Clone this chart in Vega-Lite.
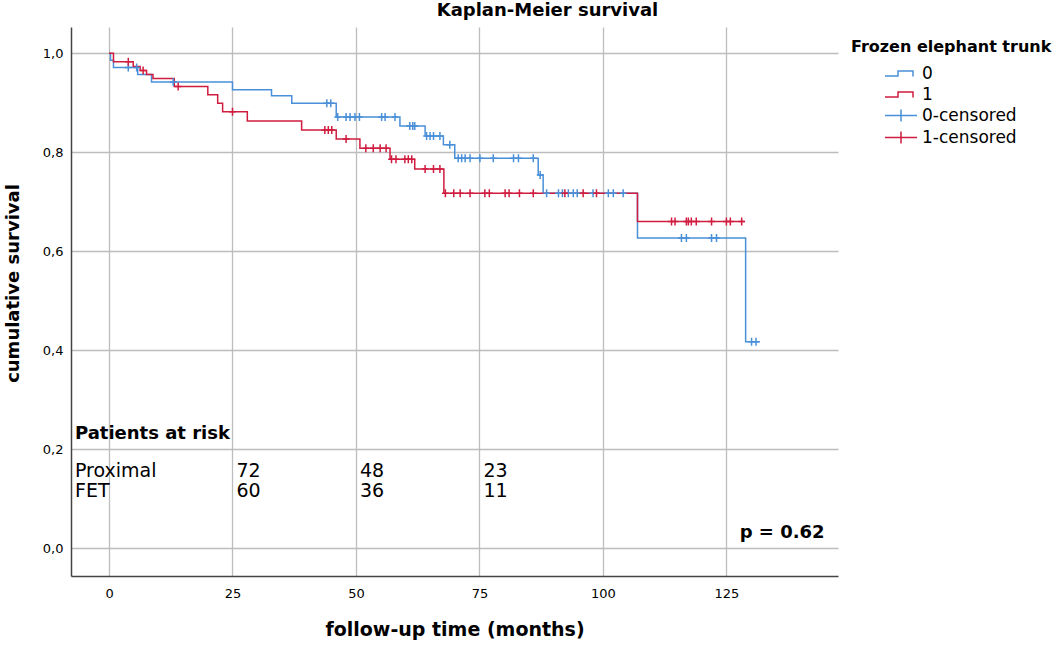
{
  "$schema": "https://vega.github.io/schema/vega-lite/v6.json",
  "autosize": {"type": "none"},
  "width": 767,
  "height": 549,
  "padding": {"left": 71, "top": 27, "right": 218, "bottom": 69},
  "background": "white",
  "config": {"view": {"stroke": null}, "font": "DejaVu Sans"},
  "title": {"text": "Kaplan-Meier survival", "font": "DejaVu Sans", "fontSize": 18, "fontWeight": "bold", "color": "black", "anchor": "middle", "dx": 93, "offset": 7},
  "datasets": {
    "curves": [
      {"grp": "0", "t": 0, "s": 1.0}, {"grp": "0", "t": 0.3, "s": 0.986}, {"grp": "0", "t": 0.9, "s": 0.971},
      {"grp": "0", "t": 5.8, "s": 0.957}, {"grp": "0", "t": 8.6, "s": 0.942}, {"grp": "0", "t": 25.0, "s": 0.926},
      {"grp": "0", "t": 32.9, "s": 0.914}, {"grp": "0", "t": 37.0, "s": 0.899}, {"grp": "0", "t": 46.0, "s": 0.871},
      {"grp": "0", "t": 58.9, "s": 0.853}, {"grp": "0", "t": 64.0, "s": 0.833}, {"grp": "0", "t": 67.7, "s": 0.815},
      {"grp": "0", "t": 70.0, "s": 0.788}, {"grp": "0", "t": 86.9, "s": 0.754}, {"grp": "0", "t": 87.9, "s": 0.717},
      {"grp": "0", "t": 107.0, "s": 0.627}, {"grp": "0", "t": 128.9, "s": 0.417}, {"grp": "0", "t": 131.8, "s": 0.417},
      {"grp": "1", "t": 0, "s": 1.0}, {"grp": "1", "t": 0.9, "s": 0.983}, {"grp": "1", "t": 4.9, "s": 0.973},
      {"grp": "1", "t": 6.3, "s": 0.965}, {"grp": "1", "t": 7.6, "s": 0.957}, {"grp": "1", "t": 8.9, "s": 0.949},
      {"grp": "1", "t": 13.2, "s": 0.933}, {"grp": "1", "t": 20.0, "s": 0.916}, {"grp": "1", "t": 22.0, "s": 0.899},
      {"grp": "1", "t": 23.0, "s": 0.882}, {"grp": "1", "t": 28.0, "s": 0.863}, {"grp": "1", "t": 39.0, "s": 0.845},
      {"grp": "1", "t": 46.0, "s": 0.827}, {"grp": "1", "t": 50.8, "s": 0.808}, {"grp": "1", "t": 56.9, "s": 0.786},
      {"grp": "1", "t": 61.9, "s": 0.766}, {"grp": "1", "t": 67.8, "s": 0.717}, {"grp": "1", "t": 107.0, "s": 0.66},
      {"grp": "1", "t": 128.7, "s": 0.66}
    ],
    "censors": [
      {"grp": "0-censored", "t": 3.9, "s": 0.971}, {"grp": "0-censored", "t": 5.6, "s": 0.971}, {"grp": "0-censored", "t": 13.0, "s": 0.942},
      {"grp": "0-censored", "t": 44.1, "s": 0.899}, {"grp": "0-censored", "t": 44.9, "s": 0.899}, {"grp": "0-censored", "t": 46.3, "s": 0.871},
      {"grp": "0-censored", "t": 48.0, "s": 0.871}, {"grp": "0-censored", "t": 48.8, "s": 0.871}, {"grp": "0-censored", "t": 49.8, "s": 0.871},
      {"grp": "0-censored", "t": 50.7, "s": 0.871}, {"grp": "0-censored", "t": 55.2, "s": 0.871}, {"grp": "0-censored", "t": 55.9, "s": 0.871},
      {"grp": "0-censored", "t": 57.9, "s": 0.871}, {"grp": "0-censored", "t": 60.9, "s": 0.853}, {"grp": "0-censored", "t": 61.5, "s": 0.853},
      {"grp": "0-censored", "t": 61.9, "s": 0.853}, {"grp": "0-censored", "t": 64.3, "s": 0.833}, {"grp": "0-censored", "t": 65.0, "s": 0.833},
      {"grp": "0-censored", "t": 65.7, "s": 0.833}, {"grp": "0-censored", "t": 67.0, "s": 0.833}, {"grp": "0-censored", "t": 69.0, "s": 0.815},
      {"grp": "0-censored", "t": 70.7, "s": 0.788}, {"grp": "0-censored", "t": 71.4, "s": 0.788}, {"grp": "0-censored", "t": 72.1, "s": 0.788},
      {"grp": "0-censored", "t": 73.1, "s": 0.788}, {"grp": "0-censored", "t": 75.1, "s": 0.788}, {"grp": "0-censored", "t": 77.8, "s": 0.788},
      {"grp": "0-censored", "t": 81.9, "s": 0.788}, {"grp": "0-censored", "t": 82.9, "s": 0.788}, {"grp": "0-censored", "t": 85.9, "s": 0.788},
      {"grp": "0-censored", "t": 87.3, "s": 0.754}, {"grp": "0-censored", "t": 88.6, "s": 0.717}, {"grp": "0-censored", "t": 91.0, "s": 0.717},
      {"grp": "0-censored", "t": 91.8, "s": 0.717}, {"grp": "0-censored", "t": 93.0, "s": 0.717}, {"grp": "0-censored", "t": 94.0, "s": 0.717},
      {"grp": "0-censored", "t": 94.8, "s": 0.717}, {"grp": "0-censored", "t": 98.0, "s": 0.717}, {"grp": "0-censored", "t": 101.1, "s": 0.717},
      {"grp": "0-censored", "t": 102.1, "s": 0.717}, {"grp": "0-censored", "t": 104.1, "s": 0.717}, {"grp": "0-censored", "t": 115.9, "s": 0.627},
      {"grp": "0-censored", "t": 116.9, "s": 0.627}, {"grp": "0-censored", "t": 122.0, "s": 0.627}, {"grp": "0-censored", "t": 123.0, "s": 0.627},
      {"grp": "0-censored", "t": 130.1, "s": 0.417}, {"grp": "0-censored", "t": 131.0, "s": 0.417},
      {"grp": "1-censored", "t": 3.9, "s": 0.983}, {"grp": "1-censored", "t": 6.9, "s": 0.965}, {"grp": "1-censored", "t": 14.0, "s": 0.933},
      {"grp": "1-censored", "t": 25.0, "s": 0.882}, {"grp": "1-censored", "t": 43.7, "s": 0.845}, {"grp": "1-censored", "t": 44.4, "s": 0.845},
      {"grp": "1-censored", "t": 45.1, "s": 0.845}, {"grp": "1-censored", "t": 48.0, "s": 0.827}, {"grp": "1-censored", "t": 52.0, "s": 0.808},
      {"grp": "1-censored", "t": 53.5, "s": 0.808}, {"grp": "1-censored", "t": 54.9, "s": 0.808}, {"grp": "1-censored", "t": 56.1, "s": 0.808},
      {"grp": "1-censored", "t": 57.2, "s": 0.786}, {"grp": "1-censored", "t": 58.1, "s": 0.786}, {"grp": "1-censored", "t": 59.9, "s": 0.786},
      {"grp": "1-censored", "t": 60.6, "s": 0.786}, {"grp": "1-censored", "t": 61.3, "s": 0.786}, {"grp": "1-censored", "t": 64.0, "s": 0.766},
      {"grp": "1-censored", "t": 65.7, "s": 0.766}, {"grp": "1-censored", "t": 67.0, "s": 0.766}, {"grp": "1-censored", "t": 68.1, "s": 0.717},
      {"grp": "1-censored", "t": 69.8, "s": 0.717}, {"grp": "1-censored", "t": 71.1, "s": 0.717}, {"grp": "1-censored", "t": 73.1, "s": 0.717},
      {"grp": "1-censored", "t": 76.1, "s": 0.717}, {"grp": "1-censored", "t": 77.0, "s": 0.717}, {"grp": "1-censored", "t": 80.2, "s": 0.717},
      {"grp": "1-censored", "t": 81.0, "s": 0.717}, {"grp": "1-censored", "t": 83.1, "s": 0.717}, {"grp": "1-censored", "t": 85.9, "s": 0.717},
      {"grp": "1-censored", "t": 92.3, "s": 0.717}, {"grp": "1-censored", "t": 96.0, "s": 0.717}, {"grp": "1-censored", "t": 98.7, "s": 0.717},
      {"grp": "1-censored", "t": 113.9, "s": 0.66}, {"grp": "1-censored", "t": 114.6, "s": 0.66}, {"grp": "1-censored", "t": 116.9, "s": 0.66},
      {"grp": "1-censored", "t": 117.3, "s": 0.66}, {"grp": "1-censored", "t": 117.9, "s": 0.66}, {"grp": "1-censored", "t": 118.9, "s": 0.66},
      {"grp": "1-censored", "t": 122.0, "s": 0.66}, {"grp": "1-censored", "t": 125.0, "s": 0.66}, {"grp": "1-censored", "t": 125.8, "s": 0.66},
      {"grp": "1-censored", "t": 128.1, "s": 0.66}
    ],
    "boldnotes": [
      {"label": "Patients at risk", "t": -6.9, "s": 0.22},
      {"label": "p = 0.62", "t": 127.7, "s": 0.0202}
    ],
    "rowlabels": [
      {"label": "Proximal", "t": -6.9, "s": 0.1446},
      {"label": "FET", "t": -6.9, "s": 0.1042}
    ],
    "atrisk": [
      {"label": "72", "t": 25, "s": 0.1446}, {"label": "60", "t": 25, "s": 0.1042},
      {"label": "48", "t": 50, "s": 0.1446}, {"label": "36", "t": 50, "s": 0.1042},
      {"label": "23", "t": 75, "s": 0.1446}, {"label": "11", "t": 75, "s": 0.1042}
    ]
  },
  "encoding": {
    "x": {
      "field": "t", "type": "quantitative",
      "scale": {"domain": [-7.7, 147.6], "nice": false, "zero": false},
      "axis": {
        "title": "follow-up time (months)", "values": [0, 25, 50, 75, 100, 125],
        "grid": true, "gridColor": "#bdbdbd", "gridWidth": 1.3, "ticks": false,
        "domainColor": "#444444", "domainWidth": 1.5,
        "labelFont": "DejaVu Sans", "labelFontSize": 13, "labelColor": "black", "labelPadding": 11,
        "titleFont": "DejaVu Sans", "titleFontSize": 19, "titleFontWeight": "bold", "titleColor": "black", "titlePadding": 20
      }
    },
    "y": {
      "field": "s", "type": "quantitative",
      "scale": {"domain": [-0.056, 1.053], "nice": false, "zero": false},
      "axis": {
        "title": "cumulative survival", "values": [0, 0.2, 0.4, 0.6, 0.8, 1.0],
        "labelExpr": "replace(format(datum.value, '.1f'), '.', ',')",
        "grid": true, "gridColor": "#bdbdbd", "gridWidth": 1.3, "ticks": false,
        "domainColor": "#444444", "domainWidth": 1.5,
        "labelFont": "DejaVu Sans", "labelFontSize": 13, "labelColor": "black", "labelPadding": 8,
        "titleFont": "DejaVu Sans", "titleFontSize": 18, "titleFontWeight": "bold", "titleColor": "black", "titlePadding": 20,
        "titleY": 256
      }
    }
  },
  "layer": [
    {
      "data": {"name": "curves"},
      "mark": {"type": "line", "interpolate": "step-after", "strokeWidth": 1.5},
      "encoding": {
        "color": {
          "field": "grp", "type": "nominal",
          "scale": {"domain": ["0", "1", "0-censored", "1-censored"], "range": ["#4a90d9", "#d01c3f", "#4a90d9", "#d01c3f"]},
          "legend": {
            "title": "Frozen elephant trunk", "orient": "none", "legendX": 780, "legendY": 12,
            "titleFont": "DejaVu Sans", "titleFontSize": 16, "titleFontWeight": "bold", "titleColor": "black", "titlePadding": 10, "titleLimit": 400,
            "labelFont": "DejaVu Sans", "labelFontSize": 17, "labelColor": "black", "labelLimit": 300,
            "symbolSize": 100, "rowPadding": 3, "padding": 0,
            "encode": {
              "symbols": {"update": {
                "shape": {"signal": "(datum.value == '0' || datum.value == '1') ? 'M -3.2 0.5 H -0.6 V -0.5 H 2.4 V 0.6' : 'M -3.2 0 H 3.2 M 0 -1.2 V 1.2'"},
                "size": {"value": 100},
                "strokeWidth": {"value": 1.5},
                "fill": {"value": "transparent"},
                "stroke": {"scale": "color", "field": "value"},
                "opacity": {"value": 1},
                "x": {"value": 50}
              }},
              "labels": {"update": {"x": {"value": 71}}}
            }
          }
        }
      }
    },
    {
      "data": {"name": "censors"},
      "mark": {"type": "point", "shape": "M -0.85 0 H 0.85 M 0 -1 V 1", "filled": false, "size": 64, "strokeWidth": 1.5, "opacity": 1},
      "encoding": {"color": {"field": "grp", "type": "nominal"}}
    },
    {
      "data": {"name": "boldnotes"},
      "mark": {"type": "text", "align": "left", "baseline": "alphabetic", "font": "DejaVu Sans", "fontSize": 18, "fontWeight": "bold", "color": "black"},
      "encoding": {"text": {"field": "label"}}
    },
    {
      "data": {"name": "rowlabels"},
      "mark": {"type": "text", "align": "left", "baseline": "alphabetic", "font": "DejaVu Sans", "fontSize": 19, "color": "black"},
      "encoding": {"text": {"field": "label"}}
    },
    {
      "data": {"name": "atrisk"},
      "mark": {"type": "text", "align": "left", "baseline": "alphabetic", "dx": 4, "font": "DejaVu Sans", "fontSize": 19, "color": "black"},
      "encoding": {"text": {"field": "label"}}
    }
  ]
}
